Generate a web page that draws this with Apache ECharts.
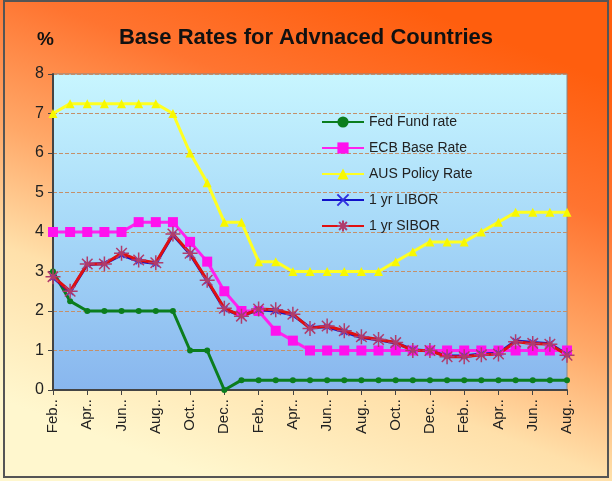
<!DOCTYPE html>
<html><head><meta charset="utf-8">
<script src="https://cdn.jsdelivr.net/npm/echarts@6/dist/echarts.min.js"></script>
<style>html,body{margin:0;padding:0;background:#fff;}#c{width:612px;height:481px;}</style>
</head><body><div id="c"></div>
<script>
const categories = ["Feb-08","Mar-08","Apr-08","May-08","Jun-08","Jul-08","Aug-08","Sep-08","Oct-08","Nov-08","Dec-08",
"Jan-09","Feb-09","Mar-09","Apr-09","May-09","Jun-09","Jul-09","Aug-09","Sep-09","Oct-09","Nov-09","Dec-09",
"Jan-10","Feb-10","Mar-10","Apr-10","May-10","Jun-10","Jul-10","Aug-10"];
const fedFund = [3.0,2.25,2.0,2.0,2.0,2.0,2.0,2.0,1.0,1.0,0.0,0.25,0.25,0.25,0.25,0.25,0.25,0.25,0.25,0.25,0.25,0.25,0.25,0.25,0.25,0.25,0.25,0.25,0.25,0.25,0.25];
const ecb = [4.0,4.0,4.0,4.0,4.0,4.25,4.25,4.25,3.75,3.25,2.5,2.0,2.0,1.5,1.25,1.0,1.0,1.0,1.0,1.0,1.0,1.0,1.0,1.0,1.0,1.0,1.0,1.0,1.0,1.0,1.0];
const aus = [7.0,7.25,7.25,7.25,7.25,7.25,7.25,7.0,6.0,5.25,4.25,4.25,3.25,3.25,3.0,3.0,3.0,3.0,3.0,3.0,3.25,3.5,3.75,3.75,3.75,4.0,4.25,4.5,4.5,4.5,4.5];
const libor = [2.85,2.48,3.18,3.2,3.42,3.26,3.2,3.93,3.44,2.76,2.05,1.88,2.03,2.0,1.9,1.58,1.6,1.47,1.33,1.27,1.19,1.02,0.99,0.86,0.86,0.91,0.93,1.24,1.2,1.17,0.9];
const sibor = [2.87,2.5,3.19,3.19,3.46,3.29,3.22,3.95,3.46,2.78,2.07,1.87,2.05,2.03,1.92,1.56,1.62,1.5,1.35,1.28,1.2,1.0,1.0,0.84,0.84,0.89,0.91,1.22,1.18,1.16,0.88];
const seriesNames = ["Fed Fund rate","ECB Base Rate","AUS Policy Rate","1 yr LIBOR","1 yr SIBOR"];
const yTicks = [0,1,2,3,4,5,6,7,8];

const chart = echarts.init(document.getElementById('c'), null, {renderer:'canvas'});
const G = echarts.graphic;
const font = 'Liberation Sans, Arial, sans-serif';
const star = 'path://M0,5L10,5M5,0L5,10M1.5,1.5L8.5,8.5M8.5,1.5L1.5,8.5';
const xmark = 'path://M1.5,1.5L8.5,8.5M8.5,1.5L1.5,8.5';
chart.setOption({
  backgroundColor: new G.LinearGradient(0.65,0,0.35,1,[
    {offset:0,color:'#FF5E0E'},{offset:0.25,color:'#FF7430'},{offset:0.5,color:'#FFA868'},{offset:0.72,color:'#FFE0AA'},{offset:1,color:'#FFF7CE'}]),
  animation:false,
  title:[
    {text:'Base Rates for Advnaced Countries', left:'center', top:22, textStyle:{fontFamily:font, fontSize:22, fontWeight:'bold', color:'#111'}},
    {text:'%', left:32, top:25, textStyle:{fontFamily:font, fontSize:19, fontWeight:'bold', color:'#111'}}
  ],
  graphic:[{type:'rect', shape:{x:4,y:1,width:604,height:476}, style:{fill:'none', stroke:'#555', lineWidth:2}, silent:true}],
  grid:{left:53, right:45, top:74, bottom:91, show:true, borderColor:'#888', borderWidth:1,
    backgroundColor: new G.LinearGradient(0,0,0,1,[{offset:0,color:'#C8F6FF'},{offset:0.5,color:'#A6D8F8'},{offset:1,color:'#88B6EE'}])},
  legend:{orient:'vertical', left:316, top:110, itemGap:12, itemWidth:42, itemHeight:14,
    data:seriesNames, textStyle:{fontFamily:font, fontSize:14, color:'#222'}},
  xAxis:{type:'category', data:categories, boundaryGap:false,
    axisLine:{lineStyle:{color:'#444', width:2}},
    axisTick:{show:true, interval:1, length:5, lineStyle:{color:'#444'}},
    axisLabel:{interval:1, rotate:90, margin:9, fontFamily:font, fontSize:15, color:'#222',
      formatter:v=>v.slice(0,3)+'..'}},
  yAxis:{type:'value', min:0, max:8, interval:1,
    axisLine:{show:true, lineStyle:{color:'#444', width:2}},
    axisTick:{show:true, length:5, lineStyle:{color:'#444'}},
    axisLabel:{margin:9, fontFamily:font, fontSize:16, color:'#222', formatter:v=>yTicks.includes(v)?String(v):''},
    splitLine:{lineStyle:{color:'#C4906A', type:'dashed', width:1}}},
  series:[
    {name:seriesNames[0], type:'line', data:fedFund, showAllSymbol:true, symbol:'circle', symbolSize:6, lineStyle:{color:'#0B7D1E', width:3}, itemStyle:{color:'#0B7D1E'}},
    {name:seriesNames[1], type:'line', data:ecb, showAllSymbol:true, symbol:'rect', symbolSize:10, lineStyle:{color:'#FF22EE', width:3}, itemStyle:{color:'#FF11EE'}},
    {name:seriesNames[2], type:'line', data:aus, showAllSymbol:true, symbol:'triangle', symbolSize:9, lineStyle:{color:'#FFFF22', width:3}, itemStyle:{color:'#F8F800'}},
    {name:seriesNames[3], type:'line', data:libor, showAllSymbol:true, symbol:xmark, symbolSize:6, lineStyle:{color:'#1010C8', width:3}, itemStyle:{color:'#1010C8', borderColor:'#3030E0', borderWidth:1.5}},
    {name:seriesNames[4], type:'line', data:sibor, showAllSymbol:true, symbol:star, symbolSize:15, lineStyle:{color:'#E01010', width:3}, itemStyle:{color:'#E01010', borderColor:'#B03C6C', borderWidth:1.5}}
  ]
});
</script></body></html>
